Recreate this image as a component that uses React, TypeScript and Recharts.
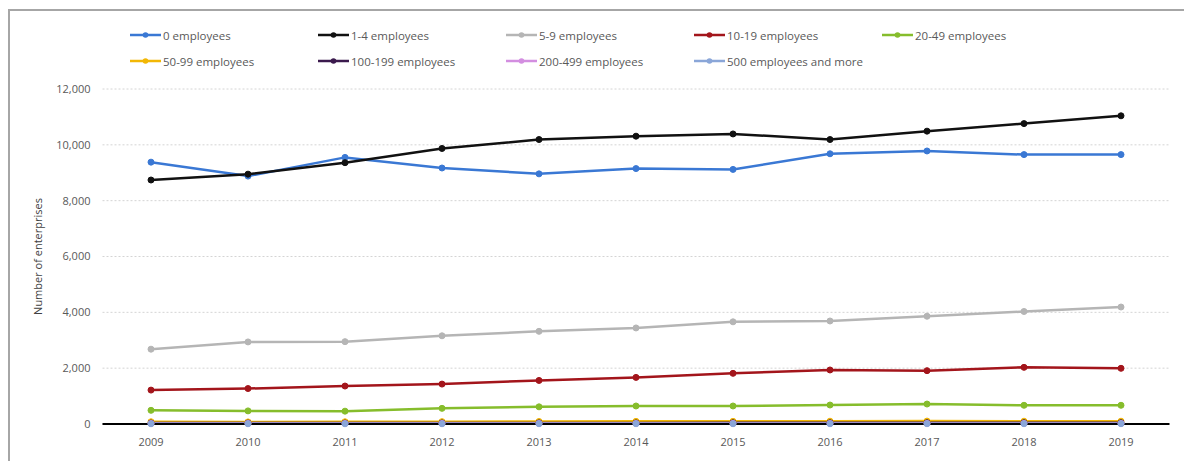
import React from "react";
import { LineChart, Line, XAxis, YAxis, CartesianGrid, Legend } from "recharts";

const years = ["2009", "2010", "2011", "2012", "2013", "2014", "2015", "2016", "2017", "2018", "2019"];
const emp0 = [9380, 8880, 9550, 9170, 8960, 9150, 9120, 9680, 9780, 9650, 9650];
const emp1to4 = [8740, 8950, 9360, 9870, 10190, 10310, 10390, 10190, 10490, 10760, 11040];
const emp5to9 = [2680, 2940, 2950, 3160, 3320, 3440, 3660, 3690, 3860, 4030, 4190];
const emp10to19 = [1215, 1270, 1360, 1430, 1560, 1670, 1815, 1935, 1910, 2030, 1995];
const emp20to49 = [490, 470, 460, 560, 615, 645, 645, 680, 715, 670, 670];
const emp50to99 = [80, 75, 80, 85, 90, 95, 95, 100, 105, 100, 100];
const emp100to199 = [35, 35, 35, 38, 40, 40, 42, 42, 45, 45, 45];
const emp200to499 = [18, 18, 18, 20, 20, 20, 22, 22, 22, 22, 22];
const emp500plus = [8, 8, 8, 8, 9, 9, 9, 9, 10, 10, 10];
const yTicks = [0, 2000, 4000, 6000, 8000, 10000, 12000];

const seriesDefs = [
  { key: "e0", name: "0 employees", values: emp0, color: "#3a78d4" },
  { key: "e1", name: "1-4 employees", values: emp1to4, color: "#111111" },
  { key: "e5", name: "5-9 employees", values: emp5to9, color: "#b5b5b5" },
  { key: "e10", name: "10-19 employees", values: emp10to19, color: "#a3151b" },
  { key: "e20", name: "20-49 employees", values: emp20to49, color: "#86bd2c" },
  { key: "e50", name: "50-99 employees", values: emp50to99, color: "#f2b705" },
  { key: "e100", name: "100-199 employees", values: emp100to199, color: "#3b1a4d" },
  { key: "e200", name: "200-499 employees", values: emp200to499, color: "#d38ee0" },
  { key: "e500", name: "500 employees and more", values: emp500plus, color: "#8aa6d8" },
];

const data = years.map((y, i) => {
  const row: Record<string, string | number> = { year: y };
  seriesDefs.forEach((s) => {
    row[s.key] = s.values[i];
  });
  return row;
});

const FONT = "'Open Sans', 'Noto Sans', sans-serif";
const TEXT = "#595959";

const renderLegend = () => (
  <div style={{ display: "flex", flexWrap: "wrap", width: 940, paddingLeft: 130, fontFamily: FONT }}>
    {seriesDefs.map((s) => (
      <div key={s.key} style={{ width: 188, height: 26, display: "flex", alignItems: "center" }}>
        <svg width={32} height={10} style={{ marginRight: 1 }}>
          <line x1={0} y1={5} x2={31} y2={5} stroke={s.color} strokeWidth={2.5} />
          <circle cx={15.5} cy={5} r={2.8} fill={s.color} />
        </svg>
        <span style={{ fontSize: 11.5, color: TEXT, whiteSpace: "nowrap" }}>{s.name}</span>
      </div>
    ))}
  </div>
);

export default function App() {
  return (
    <div style={{ position: "absolute", left: 0, top: 0, width: 1184, height: 461, background: "#fff", overflow: "hidden" }}>
      <div
        style={{
          position: "absolute",
          left: 8,
          top: 9,
          width: 1190,
          height: 470,
          borderTop: "2px solid #a6a6a6",
          borderLeft: "2px solid #a6a6a6",
        }}
      />
      <div style={{ position: "absolute", left: 0, top: 0 }}>
        <LineChart
          width={1184}
          height={461}
          data={data}
          margin={{ top: 89, right: 14.5, bottom: 7, left: 0 }}
        >
          <CartesianGrid vertical={false} stroke="#d4d4d4" strokeDasharray="2 2" />
          <XAxis
            dataKey="year"
            height={30}
            padding={{ left: 48.5, right: 48.5 }}
            axisLine={{ stroke: "#000", strokeWidth: 2 }}
            tickLine={false}
            tickMargin={8}
            tick={{ fontSize: 11, fill: TEXT, fontFamily: FONT }}
          />
          <YAxis
            width={102.5}
            domain={[0, 12000]}
            ticks={yTicks}
            axisLine={false}
            tickLine={false}
            tickMargin={6}
            tickFormatter={(v: number) => v.toLocaleString("en-US")}
            tick={{ fontSize: 11, fill: TEXT, fontFamily: FONT }}
            label={{
              value: "Number of enterprises",
              angle: -90,
              position: "insideLeft",
              offset: 38,
              style: { fontSize: 11, fill: "#404040", fontFamily: FONT, textAnchor: "middle" },
            }}
          />
          <Legend
            layout="horizontal"
            verticalAlign="middle"
            align="center"
            content={renderLegend}
            wrapperStyle={{ top: 22, left: 0, width: 1184 }}
          />
          {seriesDefs.map((s) => (
            <Line
              key={s.key}
              type="linear"
              dataKey={s.key}
              name={s.name}
              stroke={s.color}
              strokeWidth={2.5}
              dot={{ r: 3, fill: s.color, stroke: s.color, strokeWidth: 1 }}
              activeDot={false}
              isAnimationActive={false}
            />
          ))}
        </LineChart>
      </div>
    </div>
  );
}
